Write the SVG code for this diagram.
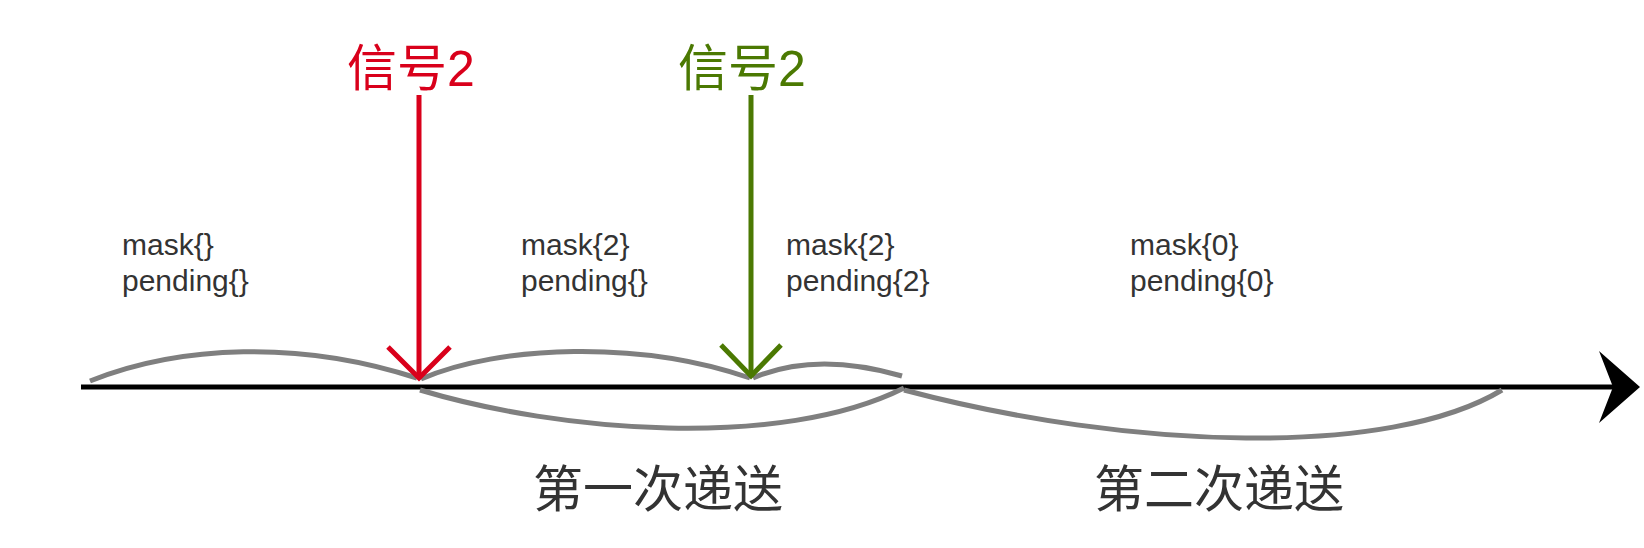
<svg xmlns="http://www.w3.org/2000/svg" width="1644" height="548" viewBox="0 0 1644 548">
<style>
.t{font-family:"Liberation Sans","Noto Sans CJK SC",sans-serif;fill:#333333}
.st{font-size:30px}
.big{font-size:50px}
.curve{fill:none;stroke:#7F7F7F;stroke-width:5}
.sig{fill:none;stroke-width:5}
</style>
<rect width="1644" height="548" fill="#ffffff"/>
<g id="connectors">
  <line x1="81" y1="387" x2="1614" y2="387" stroke="#000" stroke-width="5"/>
  <polygon points="1640,387 1599,351 1613,387 1599,423" fill="#000"/>
  <path class="curve" d="M90 381 C180 345 300 340 417 378"/>
  <path class="curve" d="M421 379 C500 345 640 340 750 378"/>
  <path class="curve" d="M753 378 C790 362 840 358 902 376"/>
  <path class="curve" d="M420 390 C560 432 780 450 904 388"/>
  <path class="curve" d="M904 390 C1130 450 1390 458 1502 390"/>
</g>
<g id="signal-red">
  <text class="t big" x="411" y="86" text-anchor="middle" style="fill:#D9001B">信号2</text>
  <line class="sig" x1="419" y1="95" x2="419" y2="378" stroke="#D9001B"/>
  <polyline class="sig" points="388,347 419,378 450,347" stroke="#D9001B"/>
</g>
<g id="signal-green">
  <text class="t big" x="742" y="86" text-anchor="middle" style="fill:#4B7902">信号2</text>
  <line class="sig" x1="751" y1="95" x2="751" y2="376" stroke="#4B7902"/>
  <polyline class="sig" points="721,345 751,376 781,345" stroke="#4B7902"/>
</g>
<g id="state1"><text class="t st" x="122" y="255">mask{}</text><text class="t st" x="122" y="291">pending{}</text></g>
<g id="state2"><text class="t st" x="521" y="255">mask{2}</text><text class="t st" x="521" y="291">pending{}</text></g>
<g id="state3"><text class="t st" x="786" y="255">mask{2}</text><text class="t st" x="786" y="291">pending{2}</text></g>
<g id="state4"><text class="t st" x="1130" y="255">mask{0}</text><text class="t st" x="1130" y="291">pending{0}</text></g>
<g id="label1"><text class="t big" x="533" y="507">第一次递送</text></g>
<g id="label2"><text class="t big" x="1094" y="507">第二次递送</text></g>
</svg>
